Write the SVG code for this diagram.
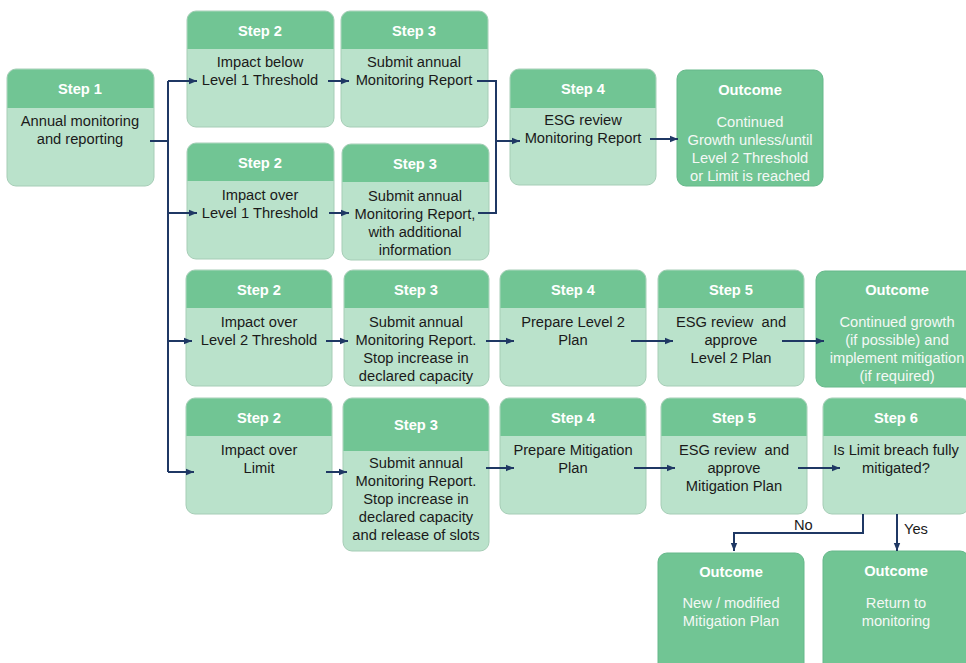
<svg xmlns="http://www.w3.org/2000/svg" width="966" height="663" viewBox="0 0 966 663">
  <defs>
    <marker id="arrow" markerUnits="userSpaceOnUse" markerWidth="9" markerHeight="8" refX="8" refY="4" orient="auto">
      <path d="M0,0.8 L8,4 L0,7.2 Z" fill="#1f3864"/>
    </marker>
  </defs>
  <style>
    .body { fill: #bae2cb; stroke: #a6cdb6; stroke-width: 1; }
    .hdr { fill: #71c594; }
    .full { fill: #71c594; stroke: #66b88a; stroke-width: 1; }
    text { font-family: "Liberation Sans", Arial, sans-serif; font-size: 14.7px; text-anchor: middle; }
    .h { font-weight: bold; fill: #ffffff; }
    .t { fill: #1a1a1a; }
    .w { fill: #f4f8f5; }
    .lbl { fill: #1a1a1a; text-anchor: start; }
    .conn path { fill: none; stroke: #1f3864; stroke-width: 2; }
  </style>

  <rect width="966" height="663" fill="#ffffff"/>

  <!-- Step 1 -->
  <g id="step1">
    <rect class="body" x="7" y="69" width="147" height="117" rx="9"/>
    <path class="hdr" d="M7.5 108 V78 A8.5 8.5 0 0 1 16 69.5 H145 A8.5 8.5 0 0 1 153.5 78 V108 Z"/>
    <text class="h" x="80" y="94">Step 1</text>
    <text class="t" x="80" y="126">Annual monitoring</text>
    <text class="t" x="80" y="144">and reporting</text>
  </g>

  <!-- Row 1: below Level 1 -->
  <g id="r1-step2">
    <rect class="body" x="187" y="11" width="147" height="116" rx="9"/>
    <path class="hdr" d="M187.5 49 V20 A8.5 8.5 0 0 1 196 11.5 H325 A8.5 8.5 0 0 1 333.5 20 V49 Z"/>
    <text class="h" x="260" y="36">Step 2</text>
    <text class="t" x="260" y="67">Impact below</text>
    <text class="t" x="260" y="85">Level 1 Threshold</text>
  </g>
  <g id="r1-step3">
    <rect class="body" x="341" y="11" width="147" height="116" rx="9"/>
    <path class="hdr" d="M341.5 49 V20 A8.5 8.5 0 0 1 350 11.5 H479 A8.5 8.5 0 0 1 487.5 20 V49 Z"/>
    <text class="h" x="414" y="36">Step 3</text>
    <text class="t" x="414" y="67">Submit annual</text>
    <text class="t" x="414" y="85">Monitoring Report</text>
  </g>

  <!-- Row 2: over Level 1 -->
  <g id="r2-step2">
    <rect class="body" x="187" y="143" width="147" height="116" rx="9"/>
    <path class="hdr" d="M187.5 181 V152 A8.5 8.5 0 0 1 196 143.5 H325 A8.5 8.5 0 0 1 333.5 152 V181 Z"/>
    <text class="h" x="260" y="168">Step 2</text>
    <text class="t" x="260" y="200">Impact over</text>
    <text class="t" x="260" y="218">Level 1 Threshold</text>
  </g>
  <g id="r2-step3">
    <rect class="body" x="342" y="144" width="147" height="116" rx="9"/>
    <path class="hdr" d="M342.5 182 V153 A8.5 8.5 0 0 1 351 144.5 H480 A8.5 8.5 0 0 1 488.5 153 V182 Z"/>
    <text class="h" x="415" y="169">Step 3</text>
    <text class="t" x="415" y="201">Submit annual</text>
    <text class="t" x="415" y="219">Monitoring Report,</text>
    <text class="t" x="415" y="237">with additional</text>
    <text class="t" x="415" y="255">information</text>
  </g>

  <!-- Step 4: ESG review -->
  <g id="step4-review">
    <rect class="body" x="510" y="69" width="146" height="116" rx="9"/>
    <path class="hdr" d="M510.5 108 V78 A8.5 8.5 0 0 1 519 69.5 H647 A8.5 8.5 0 0 1 655.5 78 V108 Z"/>
    <text class="h" x="583" y="94">Step 4</text>
    <text class="t" x="583" y="125">ESG review</text>
    <text class="t" x="583" y="143">Monitoring Report</text>
  </g>
  <g id="outcome-growth">
    <rect class="full" x="677" y="70" width="146" height="116" rx="9"/>
    <text class="h" x="750" y="95">Outcome</text>
    <text class="w" x="750" y="127">Continued</text>
    <text class="w" x="750" y="145">Growth unless/until</text>
    <text class="w" x="750" y="163">Level 2 Threshold</text>
    <text class="w" x="750" y="181">or Limit is reached</text>
  </g>

  <!-- Row 3: over Level 2 -->
  <g id="r3-step2">
    <rect class="body" x="186" y="270" width="146" height="116" rx="9"/>
    <path class="hdr" d="M186.5 308 V279 A8.5 8.5 0 0 1 195 270.5 H323 A8.5 8.5 0 0 1 331.5 279 V308 Z"/>
    <text class="h" x="259" y="295">Step 2</text>
    <text class="t" x="259" y="327">Impact over</text>
    <text class="t" x="259" y="345">Level 2 Threshold</text>
  </g>
  <g id="r3-step3">
    <rect class="body" x="344" y="270" width="145" height="116" rx="9"/>
    <path class="hdr" d="M344.5 308 V279 A8.5 8.5 0 0 1 353 270.5 H480 A8.5 8.5 0 0 1 488.5 279 V308 Z"/>
    <text class="h" x="416" y="295">Step 3</text>
    <text class="t" x="416" y="327">Submit annual</text>
    <text class="t" x="416" y="345">Monitoring Report.</text>
    <text class="t" x="416" y="363">Stop increase in</text>
    <text class="t" x="416" y="381">declared capacity</text>
  </g>
  <g id="r3-step4">
    <rect class="body" x="500" y="270" width="146" height="116" rx="9"/>
    <path class="hdr" d="M500.5 308 V279 A8.5 8.5 0 0 1 509 270.5 H637 A8.5 8.5 0 0 1 645.5 279 V308 Z"/>
    <text class="h" x="573" y="295">Step 4</text>
    <text class="t" x="573" y="327">Prepare Level 2</text>
    <text class="t" x="573" y="345">Plan</text>
  </g>
  <g id="r3-step5">
    <rect class="body" x="658" y="270" width="146" height="116" rx="9"/>
    <path class="hdr" d="M658.5 308 V279 A8.5 8.5 0 0 1 667 270.5 H795 A8.5 8.5 0 0 1 803.5 279 V308 Z"/>
    <text class="h" x="731" y="295">Step 5</text>
    <text class="t" x="731" y="327">ESG review&#160; and</text>
    <text class="t" x="731" y="345">approve</text>
    <text class="t" x="731" y="363">Level 2 Plan</text>
  </g>
  <g id="outcome-level2">
    <rect class="full" x="816" y="271" width="162" height="116" rx="9"/>
    <text class="h" x="897" y="295">Outcome</text>
    <text class="w" x="897" y="327">Continued growth</text>
    <text class="w" x="897" y="345">(if possible) and</text>
    <text class="w" x="897" y="363">implement mitigation</text>
    <text class="w" x="897" y="381">(if required)</text>
  </g>

  <!-- Row 4: over Limit -->
  <g id="r4-step2">
    <rect class="body" x="186" y="398" width="146" height="116" rx="9"/>
    <path class="hdr" d="M186.5 436 V407 A8.5 8.5 0 0 1 195 398.5 H323 A8.5 8.5 0 0 1 331.5 407 V436 Z"/>
    <text class="h" x="259" y="423">Step 2</text>
    <text class="t" x="259" y="455">Impact over</text>
    <text class="t" x="259" y="473">Limit</text>
  </g>
  <g id="r4-step3">
    <rect class="body" x="343" y="398" width="146" height="153" rx="9"/>
    <path class="hdr" d="M343.5 451 V407 A8.5 8.5 0 0 1 352 398.5 H480 A8.5 8.5 0 0 1 488.5 407 V451 Z"/>
    <text class="h" x="416" y="430">Step 3</text>
    <text class="t" x="416" y="468">Submit annual</text>
    <text class="t" x="416" y="486">Monitoring Report.</text>
    <text class="t" x="416" y="504">Stop increase in</text>
    <text class="t" x="416" y="522">declared capacity</text>
    <text class="t" x="416" y="540">and release of slots</text>
  </g>
  <g id="r4-step4">
    <rect class="body" x="500" y="398" width="146" height="116" rx="9"/>
    <path class="hdr" d="M500.5 436 V407 A8.5 8.5 0 0 1 509 398.5 H637 A8.5 8.5 0 0 1 645.5 407 V436 Z"/>
    <text class="h" x="573" y="423">Step 4</text>
    <text class="t" x="573" y="455">Prepare Mitigation</text>
    <text class="t" x="573" y="473">Plan</text>
  </g>
  <g id="r4-step5">
    <rect class="body" x="661" y="398" width="146" height="116" rx="9"/>
    <path class="hdr" d="M661.5 436 V407 A8.5 8.5 0 0 1 670 398.5 H798 A8.5 8.5 0 0 1 806.5 407 V436 Z"/>
    <text class="h" x="734" y="423">Step 5</text>
    <text class="t" x="734" y="455">ESG review&#160; and</text>
    <text class="t" x="734" y="473">approve</text>
    <text class="t" x="734" y="491">Mitigation Plan</text>
  </g>
  <g id="r4-step6">
    <rect class="body" x="823" y="398" width="146" height="116" rx="9"/>
    <path class="hdr" d="M823.5 436 V407 A8.5 8.5 0 0 1 832 398.5 H960 A8.5 8.5 0 0 1 968.5 407 V436 Z"/>
    <text class="h" x="896" y="423">Step 6</text>
    <text class="t" x="896" y="455">Is Limit breach fully</text>
    <text class="t" x="896" y="473">mitigated?</text>
  </g>
  <g id="outcome-new-plan">
    <rect class="full" x="658" y="553" width="146" height="120" rx="9"/>
    <text class="h" x="731" y="577">Outcome</text>
    <text class="w" x="731" y="608">New / modified</text>
    <text class="w" x="731" y="626">Mitigation Plan</text>
  </g>
  <g id="outcome-return">
    <rect class="full" x="823" y="551" width="146" height="122" rx="9"/>
    <text class="h" x="896" y="576">Outcome</text>
    <text class="w" x="896" y="608">Return to</text>
    <text class="w" x="896" y="626">monitoring</text>
  </g>

  <!-- Connectors -->
  <g id="connectors" class="conn">
    <path d="M150 141 H168 M168 81 V472"/>
    <path d="M168 81 H197" marker-end="url(#arrow)"/>
    <path d="M168 213 H197" marker-end="url(#arrow)"/>
    <path d="M168 341 H192" marker-end="url(#arrow)"/>
    <path d="M168 472 H194" marker-end="url(#arrow)"/>

    <path d="M328 81 H349" marker-end="url(#arrow)"/>
    <path d="M329 213 H349" marker-end="url(#arrow)"/>
    <path d="M477 81 H496 V213 H478"/>
    <path d="M496 141 H520" marker-end="url(#arrow)"/>
    <path d="M650 139 H678" marker-end="url(#arrow)"/>

    <path d="M326 341 H348" marker-end="url(#arrow)"/>
    <path d="M486 341 H514" marker-end="url(#arrow)"/>
    <path d="M631 341 H673" marker-end="url(#arrow)"/>
    <path d="M782 341 H824" marker-end="url(#arrow)"/>

    <path d="M326 472 H347" marker-end="url(#arrow)"/>
    <path d="M486 468 H514" marker-end="url(#arrow)"/>
    <path d="M634 468 H675" marker-end="url(#arrow)"/>
    <path d="M798 468 H840" marker-end="url(#arrow)"/>

    <path d="M863 514 V533 H734 V551" marker-end="url(#arrow)"/>
    <path d="M897 514 V551" marker-end="url(#arrow)"/>
  </g>
  <text class="lbl" x="794" y="530">No</text>
  <text class="lbl" x="904" y="534">Yes</text>
</svg>
